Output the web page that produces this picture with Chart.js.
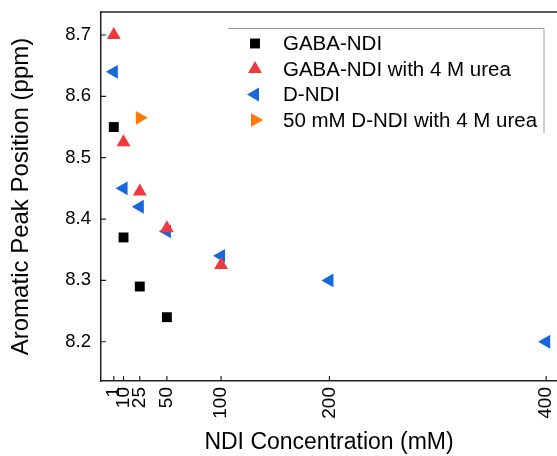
<!DOCTYPE html>
<html>
<head>
<meta charset="utf-8">
<script src="https://cdn.jsdelivr.net/npm/chart.js@4/dist/chart.umd.min.js"></script>
<style>
html,body{margin:0;padding:0;background:#fff;}
#wrap{width:557px;height:456px;}
</style>
</head>
<body>
<div id="wrap"><canvas id="c" width="557" height="456"></canvas></div>
<script>
// ---- data ----
const seriesNames = ["GABA-NDI", "GABA-NDI with 4 M urea", "D-NDI", "50 mM D-NDI with 4 M urea"];
const gabaX = [1, 10, 25, 50];
const gabaY = [8.55, 8.37, 8.29, 8.24];
const gabaUreaX = [1, 10, 25, 50, 100];
const gabaUreaY = [8.70, 8.525, 8.445, 8.385, 8.325];
const dndiX = [1, 10, 25, 50, 100, 200, 400];
const dndiY = [8.64, 8.45, 8.42, 8.38, 8.34, 8.30, 8.20];
const dndiUreaX = [25];
const dndiUreaY = [8.565];
const xTicks = [1, 10, 25, 50, 100, 200, 400];
const yTicks = [8.2, 8.3, 8.4, 8.5, 8.6, 8.7];

const colors = ["#000000", "#f0383d", "#1767dc", "#ff7a05"];
const styles = [
  {pointStyle: "rect", rotation: 0, radius: 7},
  {pointStyle: "triangle", rotation: 0, radius: 8},
  {pointStyle: "triangle", rotation: -90, radius: 8},
  {pointStyle: "triangle", rotation: 90, radius: 8}
];
const FONT = "'Liberation Sans', Arial, sans-serif";

function pts(xs, ys) { return xs.map((x, i) => ({x: x, y: ys[i]})); }
const allData = [pts(gabaX, gabaY), pts(gabaUreaX, gabaUreaY), pts(dndiX, dndiY), pts(dndiUreaX, dndiUreaY)];

const datasets = allData.map((d, i) => ({
  label: seriesNames[i],
  data: d,
  showLine: false,
  backgroundColor: colors[i],
  borderColor: colors[i],
  borderWidth: 0,
  pointStyle: styles[i].pointStyle,
  pointRotation: styles[i].rotation,
  pointRadius: styles[i].radius,
  pointHoverRadius: styles[i].radius
}));

const framePlugin = {
  id: "frame",
  afterDraw(chart) {
    const ctx = chart.ctx;
    const a = chart.chartArea;
    const xs = chart.scales.x, ys = chart.scales.y;
    ctx.save();
    ctx.strokeStyle = "#222";
    ctx.lineWidth = 1.5;
    ctx.beginPath();
    ctx.moveTo(a.left, a.top);
    ctx.lineTo(a.right, a.top);
    ctx.stroke();
    ctx.lineWidth = 1.2;
    ctx.beginPath();
    xTicks.forEach(v => {
      const p = xs.getPixelForValue(v);
      ctx.moveTo(p, a.bottom);
      ctx.lineTo(p, a.bottom - 5);
    });
    yTicks.forEach(v => {
      const p = ys.getPixelForValue(v);
      ctx.moveTo(a.left, p);
      ctx.lineTo(a.left + 5, p);
    });
    ctx.stroke();

    // legend
    const bx0 = 228, bx1 = 544, by0 = 28.5, by1 = 133;
    ctx.strokeStyle = "#9a9a9a";
    ctx.lineWidth = 1;
    ctx.beginPath();
    ctx.moveTo(bx0, by0);
    ctx.lineTo(bx1, by0);
    ctx.lineTo(bx1, by1);
    ctx.stroke();
    const rowY = [43.5, 69, 94.5, 120];
    ctx.font = "20.5px " + FONT;
    ctx.textBaseline = "middle";
    ctx.textAlign = "left";
    seriesNames.forEach((name, i) => {
      ctx.fillStyle = colors[i];
      ctx.strokeStyle = colors[i];
      Chart.helpers.drawPoint(ctx, {
        pointStyle: styles[i].pointStyle,
        rotation: styles[i].rotation,
        radius: styles[i].radius,
        borderWidth: 0
      }, 255, rowY[i]);
      ctx.fillStyle = "#000";
      ctx.fillText(name, 283, rowY[i] + 1);
    });
    ctx.restore();
  }
};

new Chart(document.getElementById("c"), {
  type: "scatter",
  data: {datasets: datasets},
  options: {
    responsive: false,
    animation: false,
    devicePixelRatio: 1,
    layout: {autoPadding: false, padding: {top: 12, right: 0, left: 0, bottom: 0}},
    plugins: {legend: {display: false}, tooltip: {enabled: false}},
    scales: {
      x: {
        type: "linear",
        min: -10.8,
        max: 410,
        grid: {display: false, drawTicks: false},
        border: {display: true, color: "#222", width: 1.5},
        afterBuildTicks: s => { s.ticks = xTicks.map(v => ({value: v})); },
        afterFit: s => { s.height = 75; s.paddingLeft = 0; s.paddingRight = 0; },
        ticks: {
          autoSkip: false,
          minRotation: 90,
          maxRotation: 90,
          padding: 6,
          color: "#000",
          font: {family: FONT, size: 19}
        },
        title: {
          display: true,
          text: "NDI Concentration (mM)",
          color: "#000",
          font: {family: FONT, size: 23},
          padding: {top: 0, bottom: 0}
        }
      },
      y: {
        type: "linear",
        min: 8.136,
        max: 8.7375,
        grid: {display: false, drawTicks: false},
        border: {display: true, color: "#222", width: 1.5},
        afterBuildTicks: s => { s.ticks = yTicks.map(v => ({value: v})); },
        afterFit: s => { s.width = 101; s.paddingTop = 0; s.paddingBottom = 0; },
        ticks: {
          padding: 10,
          color: "#000",
          font: {family: FONT, size: 18.5},
          callback: v => Number(v).toFixed(1)
        },
        title: {
          display: true,
          text: "Aromatic Peak Position (ppm)",
          color: "#000",
          font: {family: FONT, size: 24},
          padding: {top: 7, bottom: 0}
        }
      }
    }
  },
  plugins: [framePlugin]
});
</script>
</body>
</html>
